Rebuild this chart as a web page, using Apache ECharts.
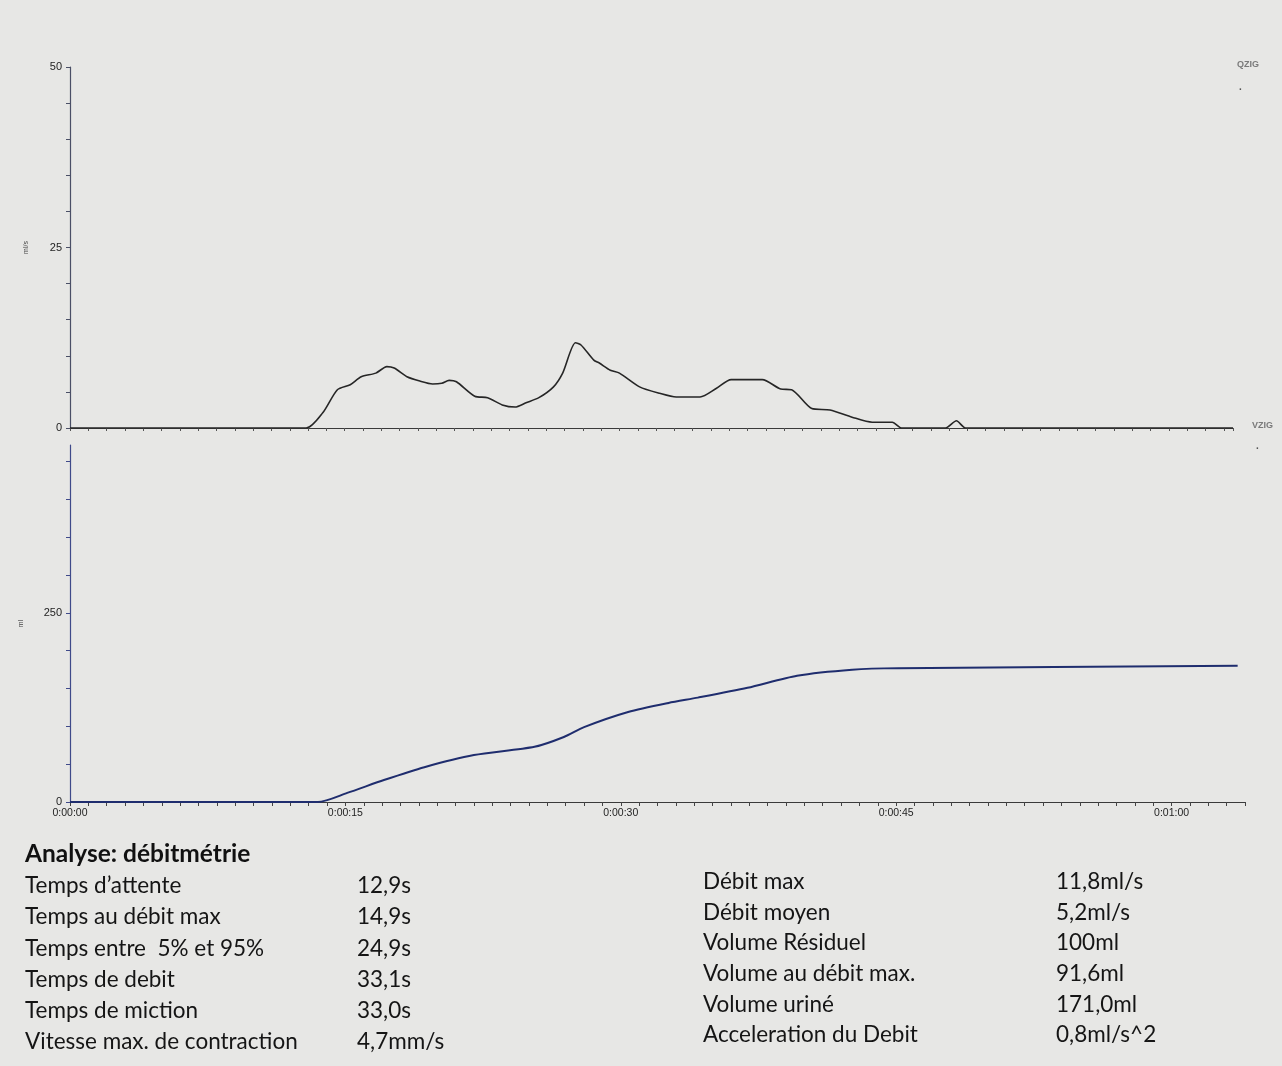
<!DOCTYPE html>
<html>
<head>
<meta charset="utf-8">
<script src="https://cdn.jsdelivr.net/npm/echarts@6/dist/echarts.min.js"></script>
<style>
  html, body { margin: 0; padding: 0; background: #e7e7e5; }
  #chart { width: 1282px; height: 1066px; }
</style>
</head>
<body>
<div id="chart"></div>
<script>
// Uroflowmetry: flow rate (ml/s) and voided volume (ml) over time (s)
const flowTimes = [0, 12.9, 13.8, 14.6, 15.3, 15.9, 16.7, 17.3, 17.7, 18.4, 19.1, 19.8, 20.3, 20.7, 21.1,
  22.1, 22.8, 23.6, 24.3, 24.9, 25.6, 26.4, 26.9, 27.6, 27.9, 28.6, 28.9, 29.5, 30.0, 31.1, 32.2,
  33.1, 34.4, 35.3, 36.1, 37.8, 38.8, 39.4, 40.5, 41.5, 42.7, 43.8, 44.9, 45.4, 47.8, 48.4, 48.9, 63.5];
const flowValues = [0, 0, 2.1, 5.3, 6.0, 7.1, 7.6, 8.5, 8.3, 7.1, 6.5, 6.1, 6.2, 6.6, 6.4,
  4.4, 4.2, 3.2, 2.9, 3.5, 4.2, 5.7, 7.6, 11.8, 11.5, 9.4, 9.0, 8.0, 7.6, 5.7, 4.8,
  4.3, 4.3, 5.5, 6.7, 6.7, 5.4, 5.3, 2.7, 2.5, 1.5, 0.8, 0.8, 0, 0, 1.0, 0, 0];

const volumeTimes = [0, 13.5, 15.1, 17.1, 19.3, 22.0, 25.3, 26.9, 28.0, 30.4, 32.6, 34.2, 36.9, 39.6, 42.6, 45.1, 63.6];
const volumeValues = [0, 0, 12, 29, 46, 62, 73, 86, 99, 119, 131, 138, 151, 167, 175, 177, 180];

const flowTickLabels = [0, 25, 50];
const volumeTickLabels = [0, 250];
const timeTickLabels = [0, 15, 30, 45, 60];

const leftTitle = 'Analyse: débitmétrie';
const leftNames = ['Temps d’attente', 'Temps au débit max', 'Temps entre  5% et 95%', 'Temps de debit', 'Temps de miction', 'Vitesse max. de contraction'];
const leftValues = ['12,9s', '14,9s', '24,9s', '33,1s', '33,0s', '4,7mm/s'];
const rightNames = ['Débit max', 'Débit moyen', 'Volume Résiduel', 'Volume au débit max.', 'Volume uriné', 'Acceleration du Debit'];
const rightValues = ['11,8ml/s', '5,2ml/s', '100ml', '91,6ml', '171,0ml', '0,8ml/s^2'];

function fmtTime(s) {
  const m = Math.floor(s / 60), sec = s % 60;
  return '0:' + String(m).padStart(2, '0') + ':' + String(sec).padStart(2, '0');
}

const axisFont = { fontFamily: 'Liberation Sans', fontSize: 11, color: '#1e1e1e' };

const chart = echarts.init(document.getElementById('chart'));

// Text block below the plots
const tableFont = 'Lato, "Open Sans", sans-serif';
const graphics = [];
graphics.push({ type: 'text', left: 25, top: 842, style: { text: leftTitle, font: 'bold 24.5px ' + tableFont, fill: '#111' } });
leftNames.forEach((n, i) => {
  const y = 874.5 + i * 31.2;
  graphics.push({ type: 'text', left: 25, top: y, style: { text: n, font: '22.5px ' + tableFont, fill: '#151515' } });
  graphics.push({ type: 'text', left: 357, top: y, style: { text: leftValues[i], font: '22.5px ' + tableFont, fill: '#151515' } });
});
rightNames.forEach((n, i) => {
  const y = 870.5 + i * 30.6;
  graphics.push({ type: 'text', left: 703, top: y, style: { text: n, font: '22.5px ' + tableFont, fill: '#151515' } });
  graphics.push({ type: 'text', left: 1056, top: y, style: { text: rightValues[i], font: '22.5px ' + tableFont, fill: '#151515' } });
});
// Channel tags at the right end of each trace
graphics.push({ type: 'text', left: 1237, top: 60, style: { text: 'QZIG', font: 'bold 9px "Liberation Sans"', fill: '#7a7a7a' } });
graphics.push({ type: 'text', left: 1239, top: 82, style: { text: '.', font: 'bold 10px "Liberation Sans"', fill: '#555' } });
graphics.push({ type: 'text', left: 1252, top: 421, style: { text: 'VZIG', font: 'bold 9px "Liberation Sans"', fill: '#7a7a7a' } });
graphics.push({ type: 'text', left: 1256, top: 441, style: { text: '.', font: 'bold 10px "Liberation Sans"', fill: '#555' } });

const pairs = (xs, ys) => xs.map((x, i) => [x, ys[i]]);

chart.setOption({
  backgroundColor: '#e7e7e5',
  animation: false,
  graphic: graphics,
  grid: [
    { left: 70, right: 49, top: 67, height: 361 },
    { left: 70, right: 37, top: 445, height: 357 }
  ],
  xAxis: [
    {
      gridIndex: 0, type: 'value', min: 0, max: 63.5, interval: 1,
      axisLine: { onZero: false, lineStyle: { color: '#3a3a3a', width: 1.2 } },
      axisTick: { length: 3, lineStyle: { color: '#555' } },
      axisLabel: { show: false },
      splitLine: { show: false }
    },
    {
      gridIndex: 1, type: 'value', min: 0, max: 64, interval: 1,
      axisLine: { onZero: false, lineStyle: { color: '#3a3a3a', width: 1.2 } },
      axisTick: { length: 4, lineStyle: { color: '#444' } },
      axisLabel: Object.assign({
        margin: 6,
        formatter: v => timeTickLabels.includes(v) ? fmtTime(v) : ''
      }, axisFont, { fontSize: 10.5 }),
      splitLine: { show: false }
    }
  ],
  yAxis: [
    {
      gridIndex: 0, type: 'value', min: 0, max: 50, interval: 5,
      name: 'ml/s', nameLocation: 'middle', nameGap: 40, nameRotate: 90,
      nameTextStyle: { fontFamily: 'Liberation Sans', fontSize: 7, color: '#444' },
      axisLine: { show: true, lineStyle: { color: '#4a4f66', width: 1.2 } },
      axisTick: { length: 4, lineStyle: { color: '#4a4f66' } },
      axisLabel: Object.assign({
        margin: 8,
        formatter: v => flowTickLabels.includes(v) ? String(v) : ''
      }, axisFont),
      splitLine: { show: false }
    },
    {
      gridIndex: 1, type: 'value', min: 0, max: 472, interval: 50,
      name: 'ml', nameLocation: 'middle', nameGap: 45, nameRotate: 90,
      nameTextStyle: { fontFamily: 'Liberation Sans', fontSize: 7, color: '#444' },
      axisLine: { show: true, lineStyle: { color: '#3f4a8a', width: 1.2 } },
      axisTick: { length: 4, lineStyle: { color: '#3f4a8a' } },
      axisLabel: Object.assign({
        margin: 8,
        showMaxLabel: false,
        formatter: v => volumeTickLabels.includes(v) ? String(v) : ''
      }, axisFont),
      splitLine: { show: false }
    }
  ],
  series: [
    {
      name: 'Débit', type: 'line', xAxisIndex: 0, yAxisIndex: 0,
      data: pairs(flowTimes, flowValues),
      smooth: 0.25, symbol: 'none',
      lineStyle: { color: '#262626', width: 1.6 }
    },
    {
      name: 'Volume', type: 'line', xAxisIndex: 1, yAxisIndex: 1,
      data: pairs(volumeTimes, volumeValues),
      smooth: 0.25, symbol: 'none',
      lineStyle: { color: '#1f2d6e', width: 2 }
    }
  ]
});
</script>
</body>
</html>
